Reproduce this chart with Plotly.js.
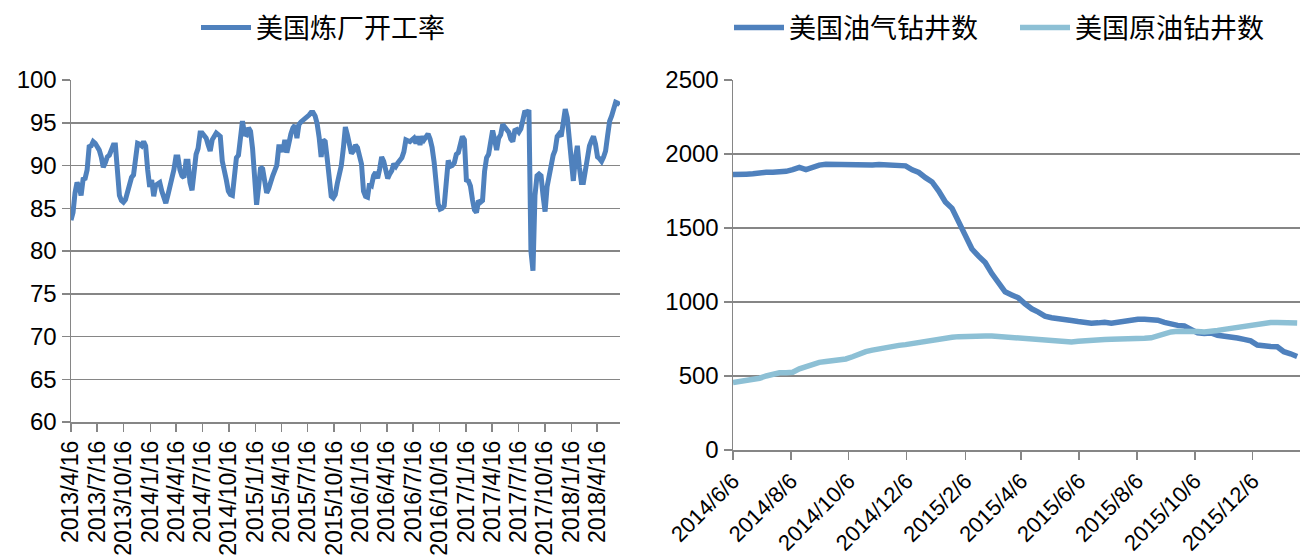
<!DOCTYPE html>
<html>
<head>
<meta charset="utf-8">
<script src="https://cdn.plot.ly/plotly-3.0.1.min.js"></script>
<style>html,body{margin:0;padding:0;background:#fff;}#chart{width:1300px;height:555px;}</style>
</head>
<body>
<div id="chart"></div>
<script>
// ---- Left chart: US refinery utilization (weekly, from 2013/4/16) ----
const refStart = '2013-04-16';
const refUtil = [
  83.6, 84.5, 86.8, 88.0, 87.5, 86.5, 88.4, 88.5, 89.5, 92.2,
  92.3, 92.8, 92.6, 92.3, 91.8, 91.0, 89.8, 90.3, 91.0, 91.2,
  92.0, 92.4, 92.4, 89.6, 86.5, 85.9, 85.7, 86.0, 87.1, 87.6,
  88.6, 88.9, 90.8, 92.6, 92.5, 92.3, 92.8, 92.3, 89.5, 87.5,
  88.3, 86.4, 87.7, 87.8, 88.0, 87.0, 86.2, 85.6, 86.5, 87.5,
  87.9, 89.5, 91.0, 91.0, 89.5, 88.8, 88.6, 90.5, 90.5, 88.0,
  87.1, 89.5, 91.3, 92.0, 93.8, 93.8, 93.4, 93.2, 92.4, 91.7,
  93.0, 93.4, 93.8, 93.6, 93.4, 90.5, 89.0, 88.3, 87.0, 86.6,
  86.5, 89.6, 90.9, 91.2, 92.8, 95.2, 93.7, 93.6, 94.4, 94.0,
  92.0, 87.5, 85.4, 87.5, 89.8, 89.6, 88.1, 86.8, 87.3, 88.2,
  88.8, 89.4, 90.0, 92.2, 92.2, 91.6, 93.0, 91.5, 93.0, 93.7,
  94.4, 94.7, 93.2, 94.8, 95.1, 95.3, 95.4, 95.6, 95.9, 96.2,
  96.2, 95.8, 94.9, 93.3, 91.0, 93.0, 92.8, 90.8, 88.0, 86.4,
  86.2, 86.6, 87.9, 88.8, 90.0, 92.0, 94.5, 93.6, 92.5, 91.4,
  91.7, 92.4, 92.1, 90.9, 90.2, 87.0, 86.4, 86.3, 87.9, 87.7,
  88.8, 89.2, 88.5, 89.6, 91.0, 90.5, 89.5, 88.5, 89.0, 89.4,
  90.2, 89.9, 90.3, 90.7, 90.9, 91.6, 93.0, 92.9, 92.8, 93.0,
  93.2, 92.6, 93.4, 92.4, 93.4, 93.0, 93.5, 93.7, 93.1, 92.1,
  90.4, 87.4, 85.5, 84.9, 85.0, 85.3, 87.9, 90.6, 89.9, 90.0,
  90.3, 91.3, 91.5, 92.3, 93.4, 93.0, 88.3, 88.2, 87.6, 86.0,
  84.8, 84.5, 85.9, 85.7, 85.9, 89.3, 90.9, 91.3, 93.2, 94.1,
  93.0, 91.8, 93.2, 93.6, 94.8, 94.5, 94.2, 93.9, 93.1, 92.8,
  94.1, 94.2, 93.9, 94.3, 95.3, 96.4, 96.1, 96.5, 80.0, 77.7,
  86.5, 88.8, 89.0, 88.8, 86.5, 84.6, 87.5, 89.0, 90.6, 91.2,
  91.8, 93.4, 93.7, 93.4, 95.0, 96.6, 95.6, 93.2, 90.0, 88.2,
  90.8, 92.3, 89.8, 88.0, 88.0, 89.3, 91.4, 92.3, 92.9, 93.4,
  92.5, 91.0, 90.8, 90.5, 91.0, 91.7, 93.5, 95.2, 95.8, 96.7,
  97.4, 97.3, 97.1
];
const leftTickVals = ['2013-04-16','2013-07-16','2013-10-16','2014-01-16','2014-04-16','2014-07-16','2014-10-16',
  '2015-01-16','2015-04-16','2015-07-16','2015-10-16','2016-01-16','2016-04-16','2016-07-16','2016-10-16',
  '2017-01-16','2017-04-16','2017-07-16','2017-10-16','2018-01-16','2018-04-16'];
const leftTickText = ['2013/4/16','2013/7/16','2013/10/16','2014/1/16','2014/4/16','2014/7/16','2014/10/16',
  '2015/1/16','2015/4/16','2015/7/16','2015/10/16','2016/1/16','2016/4/16','2016/7/16','2016/10/16',
  '2017/1/16','2017/4/16','2017/7/16','2017/10/16','2018/1/16','2018/4/16'];

// ---- Right chart: rig counts (weekly, from 2014/6/6) ----
const rigStart = '2014-06-06';
const totalRigs = [
  1861, 1859, 1864, 1866, 1875, 1876, 1877, 1876, 1883, 1894,
  1910, 1895, 1915, 1925, 1931, 1930, 1932, 1925, 1928, 1930,
  1920, 1925, 1929, 1925, 1927, 1926, 1920, 1893, 1875, 1840,
  1811, 1750, 1676, 1633, 1543, 1456, 1358, 1310, 1267, 1192,
  1125, 1069, 1048, 1028, 988, 954, 932, 905, 894, 885,
  875, 875, 868, 859, 857, 859, 863, 857, 863, 876,
  874, 884, 884, 885, 877, 862, 848, 842, 838, 809,
  791, 787, 791, 775, 771, 768, 757, 747, 737, 709,
  709, 700, 698, 664, 650, 632
];
const oilRigs = [
  455, 462, 468, 473, 485, 500, 515, 522, 522, 525,
  548, 565, 580, 592, 598, 603, 608, 615, 630, 650,
  665, 675, 685, 692, 700, 707, 712, 720, 727, 735,
  745, 753, 759, 762, 766, 769, 770, 770, 771, 770,
  766, 762, 759, 755, 750, 746, 743, 740, 737, 735,
  732, 730, 735, 740, 743, 745, 747, 748, 748, 748,
  747, 750, 755, 758, 770, 790, 798, 802, 804, 803,
  801, 798, 800, 808, 815, 822, 830, 835, 845, 855,
  860, 861, 862, 862, 860, 858
];
const rightTickVals = ['2014-06-06','2014-08-06','2014-10-06','2014-12-06','2015-02-06','2015-04-06',
  '2015-06-06','2015-08-06','2015-10-06','2015-12-06'];
const rightTickText = ['2014/6/6','2014/8/6','2014/10/6','2014/12/6','2015/2/6','2015/4/6',
  '2015/6/6','2015/8/6','2015/10/6','2015/12/6'];

const seriesNames = ['美国炼厂开工率', '美国油气钻井数', '美国原油钻井数'];

function weeklyDates(start, n) {
  const out = [];
  const d0 = new Date(start + 'T00:00:00Z');
  for (let i = 0; i < n; i++) {
    const d = new Date(d0.getTime() + i * 7 * 86400000);
    out.push(d.toISOString().slice(0, 10));
  }
  return out;
}
const refDates = weeklyDates(refStart, refUtil.length);
const rigDates = weeklyDates(rigStart, totalRigs.length);

const W = 1300, H = 555;
const px = v => v / W;
const py = v => (H - v) / H;
const FONT = 'Liberation Sans, Arial, Noto Sans CJK SC, sans-serif';
const CJK = 'Noto Sans CJK SC, Liberation Sans, sans-serif';
const GRID = '#868686';

const traces = [
  {x: refDates, y: refUtil, type: 'scatter', mode: 'lines', name: seriesNames[0],
   line: {color: '#4F81BD', width: 5}, xaxis: 'x', yaxis: 'y', legend: 'legend'},
  {x: rigDates, y: totalRigs, type: 'scatter', mode: 'lines', name: seriesNames[1],
   line: {color: '#4F81BD', width: 5.5}, xaxis: 'x2', yaxis: 'y2', legend: 'legend2'},
  {x: rigDates, y: oilRigs, type: 'scatter', mode: 'lines', name: seriesNames[2],
   line: {color: '#8DC0D5', width: 5.5}, xaxis: 'x2', yaxis: 'y2', legend: 'legend3'}
];

const axisCommon = {
  showline: true, linecolor: GRID, linewidth: 1.5,
  ticks: 'outside', tickcolor: GRID, tickwidth: 1.5, ticklen: 8,
  tickfont: {family: FONT, size: 24, color: '#000'},
  zeroline: false, fixedrange: true, automargin: false
};

const legendCommon = {
  orientation: 'h', xanchor: 'center', y: py(28), yanchor: 'middle',
  itemwidth: 50,
  font: {family: CJK, size: 27, color: '#000'}, bgcolor: 'rgba(0,0,0,0)'
};

const layout = {
  width: W, height: H,
  margin: {l: 0, r: 0, t: 0, b: 0, autoexpand: false},
  paper_bgcolor: '#fff', plot_bgcolor: '#fff',
  showlegend: true,
  xaxis: Object.assign({}, axisCommon, {
    domain: [px(71), px(620)], anchor: 'y', type: 'date',
    range: ['2013-04-16', '2018-07-04'],
    tickmode: 'array', tickvals: leftTickVals, ticktext: leftTickText,
    tickangle: -90, showgrid: false,
    tickfont: {family: FONT, size: 23, color: '#000'}
  }),
  yaxis: Object.assign({}, axisCommon, {
    domain: [py(422), py(80)], anchor: 'x',
    range: [60, 100], dtick: 5, tick0: 60,
    showgrid: true, gridcolor: GRID, gridwidth: 1.5
  }),
  xaxis2: Object.assign({}, axisCommon, {
    domain: [px(733), 1], anchor: 'y2', type: 'date',
    range: ['2014-06-06', '2016-01-25'],
    tickmode: 'array', tickvals: rightTickVals, ticktext: rightTickText,
    tickangle: -45, showgrid: false,
    tickfont: {family: FONT, size: 22, color: '#000'}
  }),
  yaxis2: Object.assign({}, axisCommon, {
    domain: [py(450), py(80)], anchor: 'x2',
    range: [0, 2500], dtick: 500, tick0: 0,
    showgrid: true, gridcolor: GRID, gridwidth: 1.5
  }),
  legend: Object.assign({}, legendCommon, {x: px(323)}),
  legend2: Object.assign({}, legendCommon, {x: px(856)}),
  legend3: Object.assign({}, legendCommon, {x: px(1142)})
};

Plotly.newPlot('chart', traces, layout, {staticPlot: true, displayModeBar: false});
</script>
</body>
</html>
